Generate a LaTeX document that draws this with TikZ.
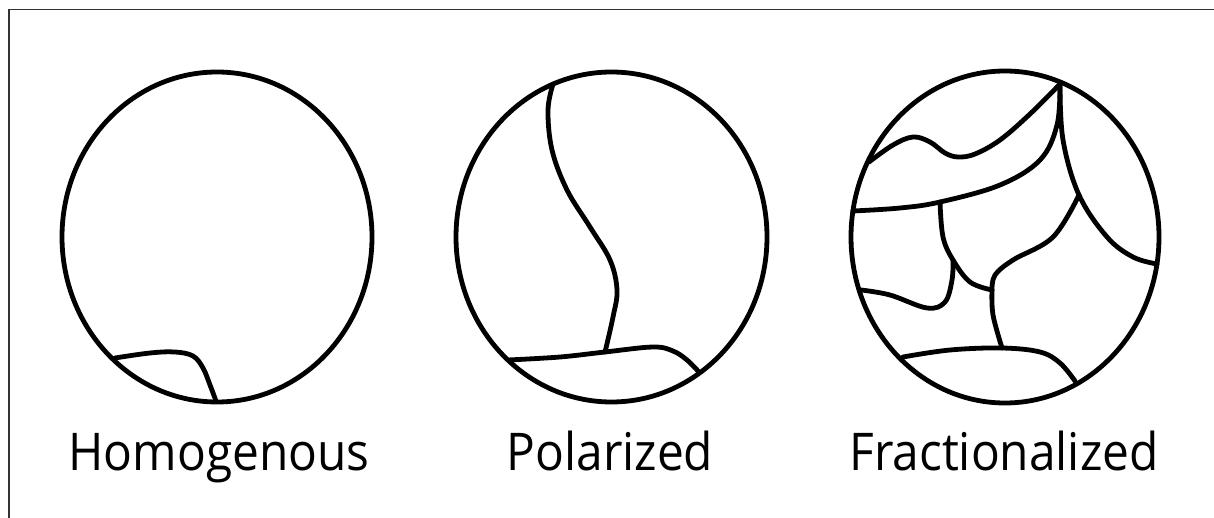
\documentclass[tikz,border=0pt]{standalone}
\usepackage{fontspec}
\setmainfont{Open Sans}
\begin{document}
\begin{tikzpicture}[x=1pt,y=-1pt,
  ln/.style={line width=4.8pt,line cap=round,line join=round},
  frame/.style={line width=1.5pt,draw=black!80},
  lbl/.style={font=\fontsize{52}{60}\selectfont,inner sep=0pt,anchor=base,transform shape,xscale=0.92}]
\useasboundingbox (0,0) rectangle (1214,518);
\draw[frame] (9,530) -- (9,9.5) -- (1220,9.5);
% Homogenous
\draw[ln] (217,237) ellipse [x radius=155, y radius=165];
\draw[ln] plot[smooth,tension=0.6] coordinates {(115,358) (150,353) (175,352) (193,356) (203,368) (210,385) (216,401)};
\node[lbl] (h) at (219,470) {Homogenous};
% Polarized
\draw[ln] (611.5,237) ellipse [x radius=155.5, y radius=165];
\draw[ln] plot[smooth,tension=0.6] coordinates {(553,84) (548,110) (552,150) (567,190) (590,227) (610,260) (617,290) (613,317) (605,352)};
\draw[ln] plot[smooth,tension=0.6] coordinates {(508,360) (560,357) (605,352) (653,347) (673,351) (687,360) (698,371)};
\node[lbl] (p) at (610,470) {Polarized};
% Fractionalized
\draw[ln] (1005,237) ellipse [x radius=154, y radius=166];
\draw[ln] plot[smooth,tension=0.6] coordinates {(869,162) (893,145) (913,137) (930,142) (945,153) (958,157) (975,154) (1000,140) (1030,114) (1060,84)};
\draw[ln] plot[smooth,tension=0.6] coordinates {(853,211) (900,208) (940,202) (1000,185) (1040,160) (1057,125) (1060,84)};
\draw[ln] plot[smooth,tension=0.6] coordinates {(1060,84) (1063,140) (1079,195) (1107,237) (1133,257) (1157,264)};
\draw[ln] plot[smooth,tension=0.6] coordinates {(1079,195) (1053,237) (1013,260) (995,275) (992,290)};
\draw[ln] plot[smooth,tension=0.6] coordinates {(940,202) (943,237) (953,260) (970,282) (992,290)};
\draw[ln] plot[smooth,tension=0.6] coordinates {(861,290) (890,295) (927,308) (945,302) (952,280) (953,260)};
\draw[ln] plot[smooth,tension=0.6] coordinates {(992,290) (993,315) (1002,348)};
\draw[ln] plot[smooth,tension=0.6] coordinates {(903,357) (950,350) (1002,348) (1040,352) (1060,363) (1075,381)};
\node[lbl] (f) at (1004,470) {Fractionalized};
\end{tikzpicture}
\end{document}
